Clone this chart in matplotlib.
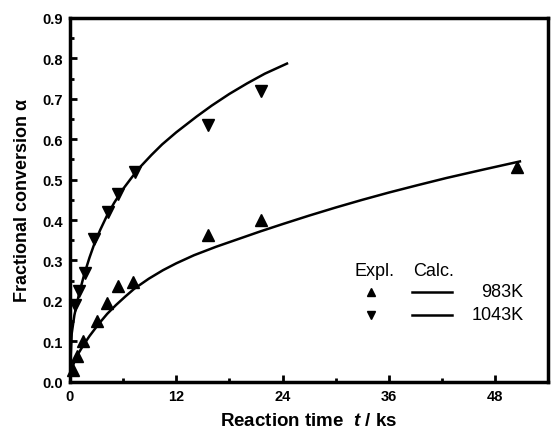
import matplotlib
matplotlib.use("Agg")
import matplotlib.pyplot as plt
from matplotlib.ticker import MultipleLocator

plt.rcParams['font.family'] = ['Liberation Sans', 'DejaVu Sans']
plt.rcParams['mathtext.fontset'] = 'custom'
plt.rcParams['mathtext.it'] = 'Liberation Sans:italic:bold'

# experimental points (t in ks, alpha)
t_983 = [0.3, 0.8, 1.5, 3.0, 4.2, 5.4, 7.1, 15.6, 21.6, 50.5]
a_983 = [0.03, 0.065, 0.10, 0.15, 0.195, 0.238, 0.248, 0.364, 0.40, 0.532]
t_1043 = [0.6, 1.0, 1.7, 2.7, 4.3, 5.4, 7.3, 15.6, 21.6]
a_1043 = [0.19, 0.225, 0.27, 0.354, 0.42, 0.465, 0.52, 0.634, 0.718]

# calculated curves
tc_983 = [0.05, 0.2, 0.5, 1.0, 1.5, 2.2, 3.2, 4.2, 5.2, 6.2, 7.25, 8.9, 10.5, 12.0,
          14.0, 16.5, 19.0, 21.5, 24.0, 27.0, 30.0, 33.0, 36.0, 39.2, 42.5, 46.7, 50.8]
ac_983 = [0.015, 0.032, 0.05, 0.072, 0.09, 0.113, 0.142, 0.168, 0.19, 0.21, 0.23,
          0.255, 0.276, 0.293, 0.313, 0.334, 0.353, 0.372, 0.39, 0.411, 0.431, 0.45,
          0.468, 0.486, 0.504, 0.525, 0.545]
tc_1043 = [0.05, 0.2, 0.5, 1.0, 1.6, 2.2, 2.7, 3.4, 4.2, 5.0, 6.0, 7.0, 8.0, 9.2,
           10.4, 12.0, 14.3, 16.0, 18.0, 20.0, 22.0, 24.5]
ac_1043 = [0.05, 0.12, 0.165, 0.215, 0.265, 0.307, 0.338, 0.375, 0.412, 0.443,
           0.477, 0.506, 0.533, 0.561, 0.587, 0.617, 0.656, 0.683, 0.712, 0.738,
           0.762, 0.787]

fig = plt.figure(figsize=(5.51, 4.39), dpi=100)
ax = fig.add_axes([0.127, 0.128, 0.868, 0.829])

ax.plot(tc_983, ac_983, color='black', lw=1.8, solid_joinstyle='round')
ax.plot(tc_1043, ac_1043, color='black', lw=1.8, solid_joinstyle='round')
ax.plot(t_983, a_983, '^', color='black', ms=8, clip_on=False)
ax.plot(t_1043, a_1043, 'v', color='black', ms=8, clip_on=False)

ax.set_xlim(0, 54)
ax.set_ylim(0, 0.9)
ax.xaxis.set_major_locator(MultipleLocator(12))
ax.xaxis.set_minor_locator(MultipleLocator(6))
ax.yaxis.set_major_locator(MultipleLocator(0.1))
ax.yaxis.set_minor_locator(MultipleLocator(0.05))
ax.set_yticks([i / 10 for i in range(10)])
ax.set_yticklabels([f'{i / 10:.1f}' for i in range(10)])
ax.tick_params(which='both', direction='in', top=False, right=False, width=2)
ax.tick_params(which='major', length=5, labelsize=10.5, pad=5)
ax.tick_params(which='minor', length=3)
for lbl in ax.get_xticklabels() + ax.get_yticklabels():
    lbl.set_fontweight('bold')
for sp in ax.spines.values():
    sp.set_linewidth(2.5)

ax.set_xlabel('Reaction time  $t$ / ks', fontsize=13.5, fontweight='bold', labelpad=7)
ax.set_ylabel('Fractional conversion α', fontsize=13, fontweight='bold', labelpad=8)

# legend drawn by hand to match the original layout
ax.text(34.4, 0.275, 'Expl.', fontsize=13, ha='center', va='center')
ax.text(41.0, 0.275, 'Calc.', fontsize=13, ha='center', va='center')
ax.plot([34.0], [0.223], '^', color='black', ms=6)
ax.plot([34.0], [0.166], 'v', color='black', ms=6)
ax.plot([38.6, 43.1], [0.223, 0.223], color='black', lw=1.8)
ax.plot([38.6, 43.1], [0.166, 0.166], color='black', lw=1.8)
ax.text(51.2, 0.223, '983K', fontsize=13, ha='right', va='center')
ax.text(51.2, 0.166, '1043K', fontsize=13, ha='right', va='center')

fig.savefig('out.png', dpi=100)
